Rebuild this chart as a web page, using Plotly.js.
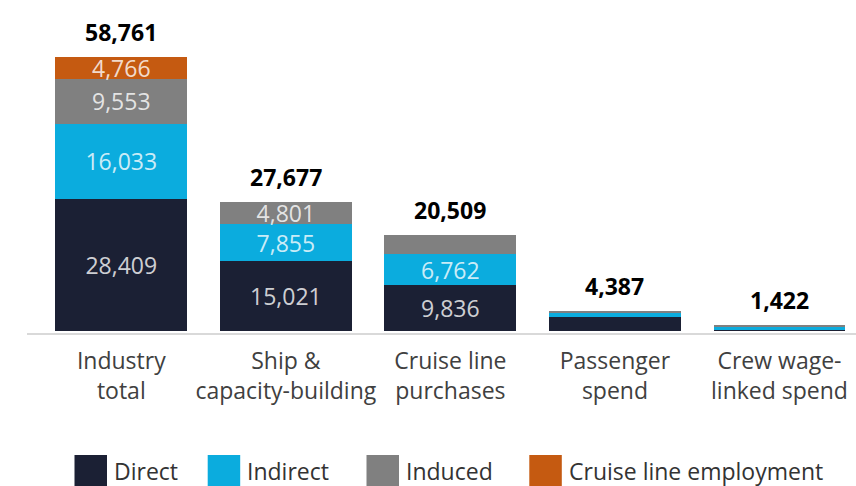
<!DOCTYPE html>
<html>
<head>
<meta charset="utf-8">
<script src="https://cdn.plot.ly/plotly-3.0.1.min.js"></script>
<style>
html,body{margin:0;padding:0;background:#fff;}
#chart{width:856px;height:486px;}
</style>
</head>
<body>
<div id="chart"></div>
<script>
// ---- data ----
var categories = ["Industry<br>total", "Ship &<br>capacity-building", "Cruise line<br>purchases", "Passenger<br>spend", "Crew wage-<br>linked spend"];
var seriesNames = ["Direct", "Indirect", "Induced", "Cruise line employment"];
var direct     = [28409, 15021, 9836, 3000, 280];
var indirect   = [16033, 7855, 6762, 890, 580];
var induced    = [9553, 4801, 3911, 497, 562];
var employment = [4766, 0, 0, 0, 0];
var totals     = [58761, 27677, 20509, 4387, 1422];
// which segments carry a value label
var showDirect     = [true, true, true, false, false];
var showIndirect   = [true, true, true, false, false];
var showInduced    = [true, true, false, false, false];
var showEmployment = [true, false, false, false, false];

// ---- styles ----
var colors = ["#1B2034", "#0BACDE", "#808080", "#C55A11"];
var FONT = "Open Sans, sans-serif";

function fmt(v){ return v.toLocaleString("en-US"); }
function labels(vals, show){ return vals.map(function(v,i){ return show[i] ? fmt(v) : ""; }); }

var seriesVals = [direct, indirect, induced, employment];
var seriesShow = [showDirect, showIndirect, showInduced, showEmployment];

var traces = seriesVals.map(function(vals, k){
  return {
    type: "bar",
    name: seriesNames[k],
    x: categories,
    y: vals,
    text: labels(vals, seriesShow[k]),
    texttemplate: "%{text}",
    textposition: "inside",
    insidetextanchor: "middle",
    textangle: 0,
    constraintext: "none",
    textfont: {family: FONT, size: 23, color: "rgba(255,255,255,0.8)"},
    marker: {color: colors[k], line: {width: 0}},
    hoverinfo: "skip",
    showlegend: false
  };
});

var L = 27, R = 0, T = 10, B = 153;
var W = 856, H = 486;
var plotW = W - L - R, plotH = H - T - B;
function px2paperX(px){ return (px - L) / plotW; }
function px2paperY(py){ return (H - B - py) / plotH; }

// total labels
var annotations = totals.map(function(t, i){
  return {
    x: categories[i], y: t, xref: "x", yref: "y",
    text: "<b>" + fmt(t) + "</b>",
    showarrow: false, yanchor: "bottom", yshift: 7,
    font: {family: FONT, size: 23, color: "#000000"}
  };
});

// custom legend (large swatches)
var legendSwatchX = [74.5, 207.7, 366.5, 529.3];
var swatchW = 32.5;
var shapes = [];
seriesNames.forEach(function(n, k){
  shapes.push({
    type: "rect", xref: "paper", yref: "paper",
    x0: px2paperX(legendSwatchX[k]), x1: px2paperX(legendSwatchX[k] + swatchW),
    y0: px2paperY(455), y1: px2paperY(492),
    fillcolor: colors[k], line: {width: 0}
  });
  annotations.push({
    xref: "paper", yref: "paper",
    x: px2paperX(legendSwatchX[k] + swatchW + 5), y: px2paperY(471),
    xanchor: "left", yanchor: "middle",
    text: n, showarrow: false,
    font: {family: FONT, size: 23, color: "#333333"}
  });
});

var layout = {
  width: W, height: H,
  margin: {l: L, r: R, t: T, b: B, pad: 0},
  paper_bgcolor: "#ffffff",
  plot_bgcolor: "#ffffff",
  barmode: "stack",
  bargap: 0.198,
  showlegend: false,
  xaxis: {
    type: "category",
    range: [-0.573, 4.465],
    showgrid: false, zeroline: false,
    showline: true, linecolor: "#D9D9D9", linewidth: 2,
    ticks: "",
    ticklabelstandoff: 6,
    tickfont: {family: FONT, size: 23, color: "#404040"},
    fixedrange: true
  },
  yaxis: {
    range: [-364, 68760],
    visible: false,
    showgrid: false, zeroline: false,
    fixedrange: true
  },
  uniformtext: {mode: "show", minsize: 23},
  annotations: annotations,
  shapes: shapes,
  font: {family: FONT}
};

Plotly.newPlot("chart", traces, layout, {displayModeBar: false, staticPlot: true});
</script>
</body>
</html>
